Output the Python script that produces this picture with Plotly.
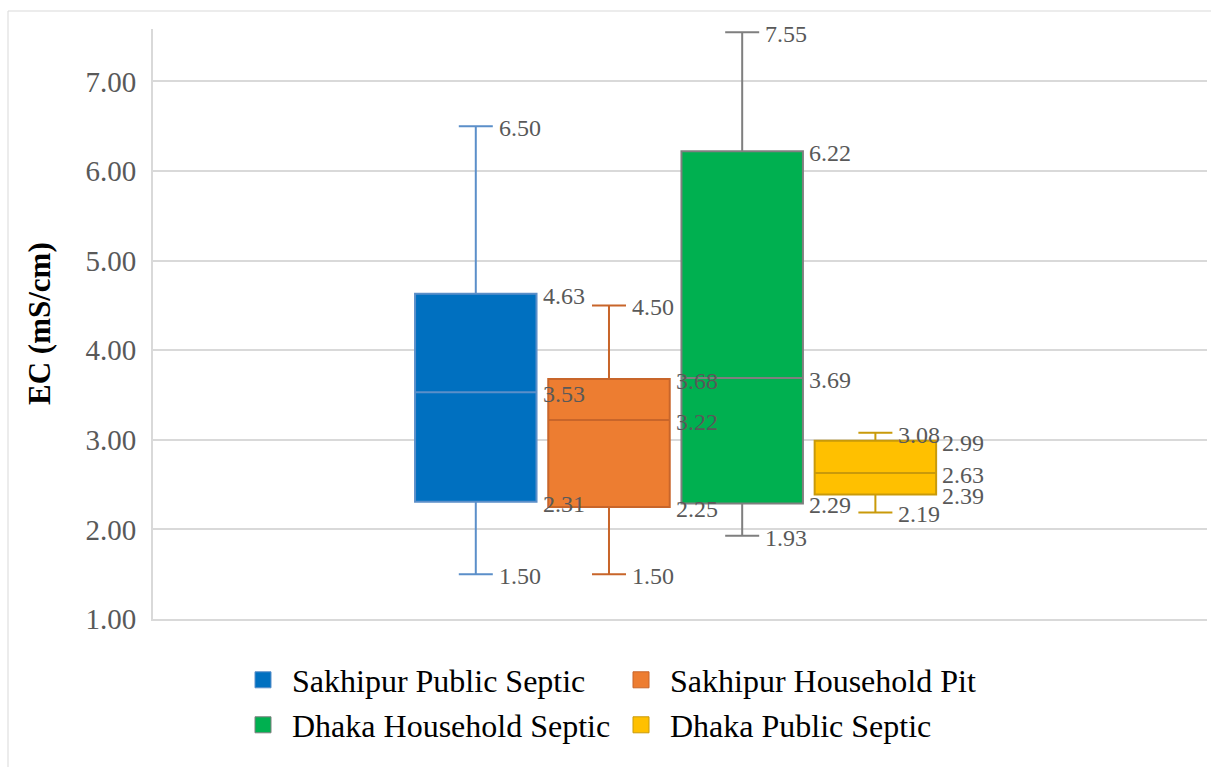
import plotly.graph_objects as go

# ---------------- data ----------------
groups = ["Sakhipur Public Septic", "Sakhipur Household Pit",
          "Dhaka Household Septic", "Dhaka Public Septic"]
lower_whisker = [1.50, 1.50, 1.93, 2.19]
q1 = [2.31, 2.25, 2.29, 2.39]
median = [3.53, 3.22, 3.69, 2.63]
q3 = [4.63, 3.68, 6.22, 2.99]
upper_whisker = [6.50, 4.50, 7.55, 3.08]
y_ticks = [1, 2, 3, 4, 5, 6, 7]
y_title = "EC (mS/cm)"

# ---------------- styles ----------------
fill_colors = ["#0070C0", "#ED7D31", "#00B050", "#FFC000"]
line_colors = ["#5B8FC9", "#C8652A", "#7F7F7F", "#C99A0A"]
FONT = "Liberation Serif, Times New Roman, serif"
TXT = "#595959"
GRID = "#D9D9D9"
BOX_W = 0.912
WHISK = 0.28

W, H = 1211, 767
ML, MR, MT, MB = 153, 4, 29, 148
PW = W - ML - MR
PH = H - MT - MB

fig = go.Figure()
for i, g in enumerate(groups):
    fig.add_trace(go.Box(
        x=[i], q1=[q1[i]], median=[median[i]], q3=[q3[i]],
        lowerfence=[lower_whisker[i]], upperfence=[upper_whisker[i]],
        width=BOX_W, whiskerwidth=WHISK,
        fillcolor=fill_colors[i],
        line=dict(color=line_colors[i], width=2),
        boxpoints=False, showlegend=False, hoverinfo="skip",
    ))

# legend entries (square swatches), laid out as 2 rows x 2 columns
legend_names = ["legend", "legend2", "legend3", "legend4"]
for i, g in enumerate(groups):
    fig.add_trace(go.Scatter(
        x=[None], y=[None], mode="markers", name=g,
        marker=dict(symbol="square", size=20, color=fill_colors[i],
                    line=dict(color=line_colors[i], width=1)),
        legend=legend_names[i], showlegend=True,
    ))

annotations = []
for i in range(len(groups)):
    for v in (q3[i], median[i], q1[i]):
        annotations.append(dict(
            x=i + BOX_W / 2, y=v, xref="x", yref="y", text=f"{v:.2f}",
            showarrow=False, xanchor="left", yanchor="middle",
            xshift=4, yshift=-2, font=dict(family=FONT, size=24, color=TXT)))
    for v in (upper_whisker[i], lower_whisker[i]):
        annotations.append(dict(
            x=i + BOX_W * WHISK / 2, y=v, xref="x", yref="y", text=f"{v:.2f}",
            showarrow=False, xanchor="left", yanchor="middle",
            xshift=4, yshift=-2, font=dict(family=FONT, size=24, color=TXT)))

annotations.append(dict(
    x=(39 - ML) / PW, y=0.5, xref="paper", yref="paper", text=f"<b>{y_title}</b>",
    textangle=-90, showarrow=False, xanchor="center", yanchor="middle",
    font=dict(family=FONT, size=31, color="#000000")))

def legend_at(px_x, px_y):
    return dict(
        orientation="h", xanchor="left", yanchor="middle",
        x=(px_x - ML) / PW, y=(H - MB - px_y) / PH,
        font=dict(family=FONT, size=32, color="#000000"),
        itemwidth=48, bgcolor="rgba(0,0,0,0)",
        itemclick=False, itemdoubleclick=False,
    )

fig.update_layout(
    width=W, height=H,
    margin=dict(l=ML, r=MR, t=MT, b=MB),
    paper_bgcolor="white", plot_bgcolor="white",
    font=dict(family=FONT, color=TXT),
    xaxis=dict(range=[-2.4234, 5.4896], showticklabels=False, showgrid=False,
               zeroline=False, showline=True, linecolor=GRID, linewidth=2,
               fixedrange=True),
    yaxis=dict(range=[1, 7.585], tickvals=y_ticks,
               ticktext=[f"{t:.2f}" for t in y_ticks],
               tickfont=dict(family=FONT, size=29, color=TXT),
               showgrid=True, gridcolor=GRID, gridwidth=2,
               zeroline=False, showline=True, linecolor=GRID, linewidth=2,
               ticks="", ticklabelstandoff=9, fixedrange=True),
    legend=legend_at(234, 680),
    legend2=legend_at(612, 680),
    legend3=legend_at(234, 725),
    legend4=legend_at(612, 725),
    annotations=annotations,
    shapes=[dict(type="rect", xref="paper", yref="paper",
                 x0=(8 - ML) / PW, x1=(W + 10 - ML) / PW,
                 y0=-(H + 10 - (H - MB)) / PH, y1=(H - MB - 11) / PH,
                 line=dict(color=GRID, width=1), fillcolor="rgba(0,0,0,0)",
                 layer="below")],
)

fig.write_html("out.html")
